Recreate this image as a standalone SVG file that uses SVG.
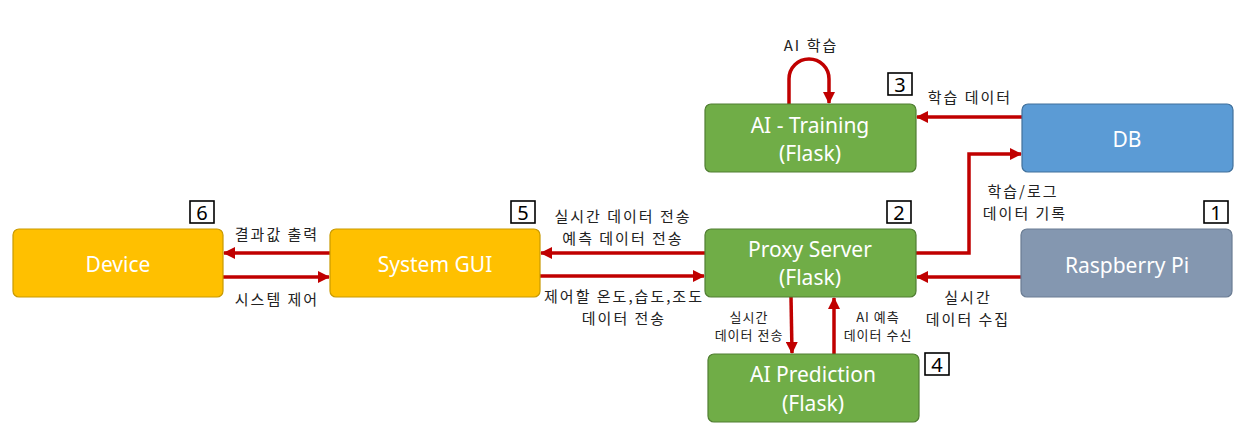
<svg xmlns="http://www.w3.org/2000/svg" width="1252" height="447" viewBox="0 0 1252 447">
<style>
.node{stroke-width:1.2}
.yel{fill:#FFC000;stroke:#C99A00}
.grn{fill:#70AD47;stroke:#507E32}
.blu{fill:#5B9BD5;stroke:#41719C}
.gry{fill:#8497B0;stroke:#6A7C93}
.nt{font-family:"Noto Sans","Noto Sans CJK KR",sans-serif;font-size:21px;fill:#FFFFFF;text-anchor:middle;dominant-baseline:central}
.lb{font-family:"Noto Sans CJK KR","Noto Sans",sans-serif;font-size:15px;letter-spacing:2px;fill:#222;text-anchor:middle;dominant-baseline:central}
.sl{font-family:"Noto Sans CJK KR","Noto Sans",sans-serif;font-size:13px;letter-spacing:1px;fill:#222;text-anchor:middle;dominant-baseline:central}
.num rect{fill:#fff;stroke:#000;stroke-width:1.6}
.num text{font-family:"Noto Sans",sans-serif;font-size:20px;fill:#000;text-anchor:middle;dominant-baseline:central}
.cn{fill:none;stroke:#C00000;stroke-width:3.5;marker-end:url(#ah)}
</style>
<defs>
<marker id="ah" markerUnits="userSpaceOnUse" markerWidth="12" markerHeight="12" refX="11" refY="6" orient="auto">
<path d="M0,0 L12,6 L0,12 z" fill="#C00000"/>
</marker>
</defs>

<g id="connectors">
<path class="cn" d="M330,253 H224"/>
<path class="cn" d="M223,277 H329"/>
<path class="cn" d="M705,253 H541"/>
<path class="cn" d="M540,276 H704"/>
<path class="cn" d="M1021,277 H917"/>
<path class="cn" d="M916,253 H969 V154 H1021"/>
<path class="cn" d="M1022,117 H917"/>
<path class="cn" d="M789,104 V79 A20,20 0 0 1 829,79 V103"/>
<path class="cn" d="M791,297 L792,353"/>
<path class="cn" d="M834,354 V298"/>
</g>

<g id="labels">
<text class="lb" x="811" y="44">AI 학습</text>
<text class="lb" x="970" y="96">학습 데이터</text>
<text class="lb" x="1023" y="190">학습/로그</text>
<text class="lb" x="1025" y="212">데이터 기록</text>
<text class="lb" x="968" y="296">실시간</text>
<text class="lb" x="968" y="318">데이터 수집</text>
<text class="lb" x="623" y="215">실시간 데이터 전송</text>
<text class="lb" x="623" y="237">예측 데이터 전송</text>
<text class="lb" x="624" y="295">제어할 온도,습도,조도</text>
<text class="lb" x="624" y="317">데이터 전송</text>
<text class="lb" x="277" y="233">결과값 출력</text>
<text class="lb" x="277" y="298">시스템 제어</text>
<text class="sl" x="749" y="316">실시간</text>
<text class="sl" x="749" y="334">데이터 전송</text>
<text class="sl" x="878" y="316">AI 예측</text>
<text class="sl" x="878" y="334">데이터 수신</text>
</g>

<g id="device">
<rect class="node yel" x="13" y="229" width="210" height="68" rx="6"/>
<text class="nt" x="118" y="264">Device</text>
</g>
<g id="system-gui">
<rect class="node yel" x="330" y="229" width="210" height="68" rx="6"/>
<text class="nt" x="435" y="264">System GUI</text>
</g>
<g id="proxy-server">
<rect class="node grn" x="705" y="229" width="211" height="68" rx="6"/>
<text class="nt" x="810" y="249">Proxy Server</text>
<text class="nt" x="810" y="277">(Flask)</text>
</g>
<g id="raspberry-pi">
<rect class="node gry" x="1021" y="229" width="211" height="68" rx="6"/>
<text class="nt" x="1127" y="265">Raspberry Pi</text>
</g>
<g id="db">
<rect class="node blu" x="1022" y="104" width="211" height="68" rx="6"/>
<text class="nt" x="1127" y="139">DB</text>
</g>
<g id="ai-training">
<rect class="node grn" x="705" y="104" width="211" height="68" rx="6"/>
<text class="nt" x="810" y="125">AI - Training</text>
<text class="nt" x="810" y="153">(Flask)</text>
</g>
<g id="ai-prediction">
<rect class="node grn" x="708" y="354" width="211" height="68" rx="6"/>
<text class="nt" x="813" y="374">AI Prediction</text>
<text class="nt" x="813" y="403">(Flask)</text>
</g>

<g id="numbers">
<g class="num"><rect x="190" y="201" width="24" height="22"/><text x="202" y="212">6</text></g>
<g class="num"><rect x="511" y="201" width="24" height="22"/><text x="523" y="212">5</text></g>
<g class="num"><rect x="887" y="201" width="24" height="22"/><text x="899" y="212">2</text></g>
<g class="num"><rect x="1204" y="201" width="24" height="22"/><text x="1216" y="212">1</text></g>
<g class="num"><rect x="888" y="73" width="24" height="22"/><text x="900" y="84">3</text></g>
<g class="num"><rect x="925" y="353" width="24" height="22"/><text x="937" y="364">4</text></g>
</g>
</svg>
